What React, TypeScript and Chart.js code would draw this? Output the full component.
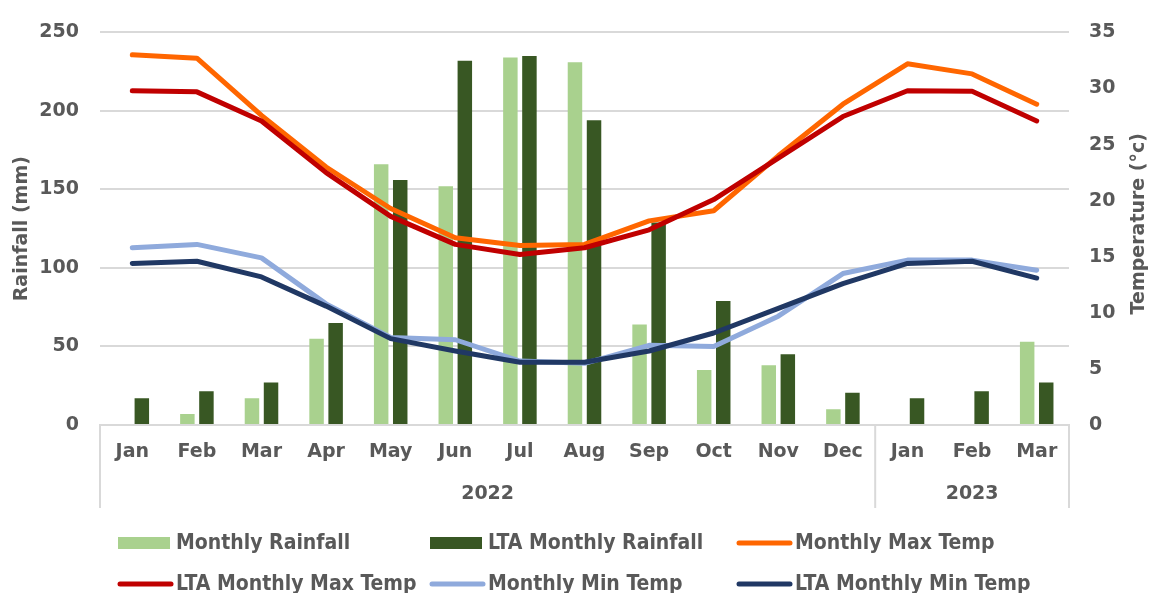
import React, { useEffect, useRef } from 'react';
import { Chart, registerables } from 'chart.js';

Chart.register(...registerables);

const months = ['Jan', 'Feb', 'Mar', 'Apr', 'May', 'Jun', 'Jul', 'Aug', 'Sep', 'Oct', 'Nov', 'Dec', 'Jan', 'Feb', 'Mar'];
const yearLabels = ['2022', '2023'];
const yearCounts = [12, 3];

const monthlyRainfall = [null, 7, 17, 55, 166, 152, 234, 231, 64, 35, 38, 10, null, null, 53];
const ltaMonthlyRainfall = [17, 21.5, 27, 65, 156, 232, 235, 194, 129, 79, 45, 20.5, 17, 21.5, 27];
const monthlyMaxTemp = [33.0, 32.7, 27.6, 23.0, 19.3, 16.7, 16.0, 16.1, 18.2, 19.1, 24.0, 28.6, 32.2, 31.3, 28.6];
const ltaMonthlyMaxTemp = [29.8, 29.7, 27.1, 22.5, 18.6, 16.1, 15.2, 15.8, 17.4, 20.1, 23.8, 27.5, 29.8, 29.75, 27.1];
const monthlyMinTemp = [15.8, 16.1, 14.9, 10.8, 7.8, 7.6, 5.7, 5.5, 7.1, 7.0, 9.7, 13.5, 14.7, 14.7, 13.8];
const ltaMonthlyMinTemp = [14.4, 14.6, 13.2, 10.6, 7.7, 6.6, 5.6, 5.6, 6.6, 8.2, 10.4, 12.6, 14.4, 14.6, 13.1];

const FONT = "'DejaVu Sans', Verdana, sans-serif";
const LEGEND_FONT = "bold 21px 'DejaVu Sans Condensed', 'DejaVu Sans', sans-serif";
const TEXT = '#595959';
const GRID = '#d9d9d9';

const decorPlugin = {
  id: 'decor',
  afterDraw(chart: any) {
    const { ctx, chartArea, scales } = chart;
    const x = scales.x;
    ctx.save();

    // multi-level category separators and year labels
    const sepBottom = chartArea.bottom + 83;
    const bounds: number[] = [chartArea.left];
    let idx = 0;
    yearCounts.forEach((c, i) => {
      idx += c;
      if (i < yearCounts.length - 1) {
        bounds.push((x.getPixelForValue(idx - 1) + x.getPixelForValue(idx)) / 2);
      }
    });
    bounds.push(chartArea.right);
    ctx.strokeStyle = GRID;
    ctx.lineWidth = 2;
    bounds.forEach((b) => {
      ctx.beginPath();
      ctx.moveTo(b, chartArea.bottom);
      ctx.lineTo(b, sepBottom);
      ctx.stroke();
    });
    ctx.fillStyle = TEXT;
    ctx.font = `bold 19px ${FONT}`;
    ctx.textAlign = 'center';
    ctx.textBaseline = 'middle';
    yearLabels.forEach((lab, i) => {
      ctx.fillText(lab, (bounds[i] + bounds[i + 1]) / 2, chartArea.bottom + 69);
    });

    // axis titles
    const midY = (chartArea.top + chartArea.bottom) / 2;
    ctx.font = `bold 19px ${FONT}`;
    ctx.save();
    ctx.translate(22, midY);
    ctx.rotate(-Math.PI / 2);
    ctx.fillText('Rainfall (mm)', 0, 0);
    ctx.restore();
    ctx.save();
    ctx.translate(1139, midY - 5);
    ctx.rotate(-Math.PI / 2);
    ctx.fillText('Temperature (°c)', 0, 0);
    ctx.restore();

    // legend
    const cols = [118, 430, 737];
    const rows = [543, 584];
    ctx.font = LEGEND_FONT;
    ctx.textAlign = 'left';
    ctx.textBaseline = 'middle';
    chart.data.datasets.forEach((ds: any, i: number) => {
      const cx = cols[i % 3];
      const cy = rows[Math.floor(i / 3)];
      if (ds.type === 'bar') {
        ctx.fillStyle = ds.backgroundColor;
        ctx.fillRect(cx, cy - 6, 52, 12);
      } else {
        ctx.strokeStyle = ds.borderColor;
        ctx.lineWidth = 5;
        ctx.lineCap = 'round';
        ctx.beginPath();
        ctx.moveTo(cx + 2, cy);
        ctx.lineTo(cx + 53, cy);
        ctx.stroke();
      }
      ctx.fillStyle = TEXT;
      ctx.fillText(ds.label, cx + 58, cy + 1);
    });

    ctx.restore();
  },
};

export default function App() {
  const ref = useRef<HTMLCanvasElement>(null);
  useEffect(() => {
    const canvas = ref.current;
    if (!canvas) return;
    const lineBase = {
      type: 'line',
      yAxisID: 'y1',
      borderWidth: 5,
      pointRadius: 0,
      tension: 0,
      fill: false,
      borderJoinStyle: 'round',
      borderCapStyle: 'round',
    };
    const barBase = {
      type: 'bar',
      yAxisID: 'y',
      order: 10,
      categoryPercentage: 0.59,
      barPercentage: 0.76,
    };
    const tickFont = { family: FONT, weight: 'bold', size: 19 };
    const chart = new Chart(canvas, {
      type: 'bar',
      data: {
        labels: months,
        datasets: [
          { ...barBase, label: 'Monthly Rainfall', data: monthlyRainfall, backgroundColor: '#A9D18E' },
          { ...barBase, label: 'LTA Monthly Rainfall', data: ltaMonthlyRainfall, backgroundColor: '#385723' },
          { ...lineBase, label: 'Monthly Max Temp', data: monthlyMaxTemp, borderColor: '#FF6600', backgroundColor: '#FF6600', order: 4 },
          { ...lineBase, label: 'LTA Monthly Max Temp', data: ltaMonthlyMaxTemp, borderColor: '#C00000', backgroundColor: '#C00000', order: 3 },
          { ...lineBase, label: 'Monthly Min Temp', data: monthlyMinTemp, borderColor: '#8FAADC', backgroundColor: '#8FAADC', order: 2 },
          { ...lineBase, label: 'LTA Monthly Min Temp', data: ltaMonthlyMinTemp, borderColor: '#203864', backgroundColor: '#203864', order: 1 },
        ] as any,
      },
      options: {
        responsive: true,
        maintainAspectRatio: false,
        animation: false,
        layout: { padding: { top: 27, left: 0, right: 0, bottom: 0 } },
        plugins: { legend: { display: false }, tooltip: { enabled: false } },
        scales: {
          x: {
            grid: { display: false, drawTicks: false },
            border: { display: true, color: GRID, width: 2 },
            ticks: { color: TEXT, font: tickFont as any, padding: 16, maxRotation: 0, autoSkip: false },
            afterFit: (s: any) => { s.height = 168; },
          },
          y: {
            position: 'left',
            min: 0,
            max: 250,
            ticks: { stepSize: 50, color: TEXT, font: tickFont as any, padding: 21 },
            grid: { color: GRID, lineWidth: 2, drawTicks: false },
            border: { display: false },
            afterFit: (s: any) => { s.width = 100; },
          },
          y1: {
            position: 'right',
            min: 0,
            max: 35,
            ticks: { stepSize: 5, color: TEXT, font: tickFont as any, padding: 20 },
            grid: { display: false, drawTicks: false },
            border: { display: false },
            afterFit: (s: any) => { s.width = 81; },
          },
        },
      } as any,
      plugins: [decorPlugin],
    });
    return () => chart.destroy();
  }, []);
  return (
    <div style={{ position: 'fixed', left: 0, top: 0, width: 1150, height: 593, background: '#fff' }}>
      <canvas ref={ref} />
    </div>
  );
}
